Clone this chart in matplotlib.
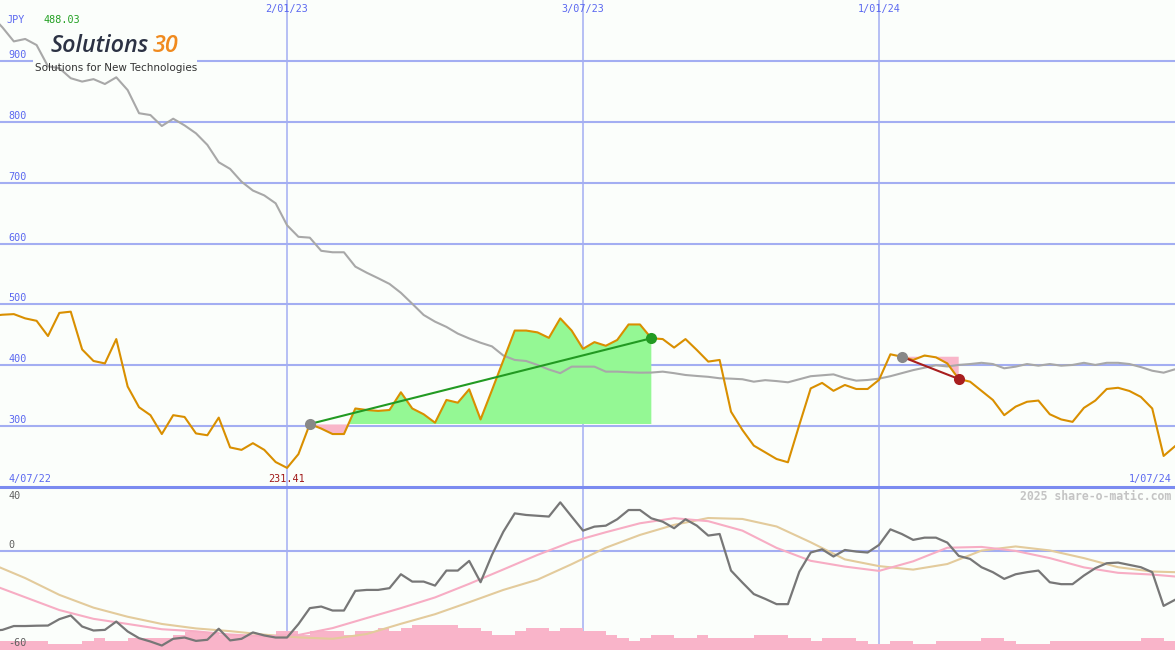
import numpy as np
import pandas as pd
import matplotlib
matplotlib.use("Agg")
import matplotlib.pyplot as plt
from matplotlib.patches import Rectangle
from matplotlib.lines import Line2D

# weekly closes, Solutions30 (JPY)
weeks = pd.date_range("2022-07-04", periods=105, freq="7D")

price = [481, 483, 484, 477, 473, 448, 486, 488.03, 426, 407,
         403, 443, 365, 331, 318, 287, 318, 315, 288, 285,
         314, 265, 261, 272, 261, 241, 231.41, 254, 303.5, 296,
         287, 287, 329, 326.5, 325, 326.5, 355.6, 329, 319.5, 305.6,
         343, 338.5, 360.5, 311, 359, 408, 457, 457, 454, 445,
         477, 457, 427, 438, 432, 441.5, 467, 467, 444.4, 443,
         429, 443, 425, 406, 408.7, 323.7, 293.7, 268, 257, 246,
         240.6, 302, 362, 371, 358, 367.6, 361, 361, 376, 418,
         414, 408.7, 416, 413, 403, 377.5, 373, 358, 343, 318,
         332, 340, 342, 319.5, 311, 307, 330, 342, 361, 363,
         357.7, 348, 329, 251, 267]

avg_line = [975, 955, 932, 936, 926, 891, 888, 871.5, 866, 870,
            862, 873, 852, 814, 811, 793, 805, 794, 781, 762,
            733.5, 722.5, 701.6, 687, 679, 666, 630, 611, 609.6, 588,
            585.6, 585.6, 562, 552, 543, 533.6, 519, 501, 482.6, 471.6,
            463, 452, 444, 437, 431, 416, 408.7, 407, 400.5, 393,
            387, 397.7, 397.7, 397.7, 389.5, 389.5, 388.5, 387.8, 388, 389.5,
            387, 384, 382.4, 381, 378.6, 378, 377, 373, 375.5, 374,
            372, 377, 382, 383.5, 385, 379, 374.7, 375.8, 378, 382,
            387, 392, 396, 400, 398, 400.5, 402, 404, 402, 395,
            397.7, 402, 399.3, 402, 399.3, 400.5, 404, 400.5, 404, 404,
            402, 397, 391, 387.8, 393.4]

momentum = [-50, -49.4, -47, -47, -46.8, -46.7, -42.7, -40.4, -47.3, -49.8,
            -49.4, -44.2, -50.4, -54.6, -56.7, -59.2, -55, -54.2, -56.3, -55.6,
            -48.7, -56, -55, -51, -52.9, -54.2, -54.2, -45.8, -35.8, -34.8,
            -37.3, -37.3, -25, -24.4, -24.4, -23.3, -14.6, -19.2, -19.2, -21.7,
            -12.3, -12.3, -6.25, -19.6, -2.5, 12, 23.5, 22.5, 22, 21.5,
            30.4, 21.5, 12.7, 15.2, 15.8, 19.8, 25.6, 25.6, 20.4, 18.3,
            14.2, 19.8, 15.8, 9.6, 10.6, -12.3, -19.8, -27, -30, -33.3,
            -33.3, -13, -1, 1, -3.5, 0.6, -0.4, -1, 3.75, 13.5,
            10.6, 6.9, 8.3, 8.3, 5.2, -3.1, -5, -10.2, -13.3, -17.5,
            -14.6, -13.3, -12.3, -19.6, -20.8, -20.8, -15.4, -10.8, -7.7, -7.3,
            -8.75, -10.2, -13.3, -34.4, -30.6]

# volume (thousand shares)
volume = [58, 58, 58, 58, 58, 39, 39, 39, 58, 75,
          58, 58, 75, 75, 75, 75, 96, 110, 110, 110,
          96, 96, 96, 96, 96, 120, 120, 96, 120, 120,
          120, 96, 120, 120, 138, 120, 138, 158, 158, 158,
          158, 138, 138, 120, 96, 96, 120, 138, 138, 120,
          138, 138, 120, 120, 96, 75, 58, 75, 96, 96,
          75, 75, 96, 75, 75, 75, 75, 96, 96, 96,
          75, 75, 58, 75, 75, 75, 58, 39, 39, 58,
          58, 39, 39, 58, 58, 58, 58, 75, 75, 58,
          39, 39, 39, 58, 58, 58, 58, 58, 58, 58,
          58, 75, 75, 58, 58]

# smoothed oscillators, read every third week
osc_idx = [0, 3, 6, 9, 12, 15, 18, 21, 24, 27, 30, 33, 36, 39, 42, 45, 48, 51,
           54, 57, 60, 63, 66, 69, 72, 75, 78, 81, 84, 87, 90, 93, 96, 99, 102, 104]
osc_fast = [-21, -29, -37, -42.5, -45.7, -49, -50.3, -52.3, -53.4, -52.6, -48.3, -42,
            -35.8, -29.1, -20.6, -11.6, -2.5, 5.7, 11.7, 17.3, 20.5, 18.6, 12.7, 1.9,
            -6.2, -9.8, -12.5, -6.5, 2, 2.5, 0, -4.5, -10.3, -13.7, -14.8, -16]
osc_slow = [-8, -17, -27.5, -35.5, -41.2, -45.7, -48.5, -50.2, -52.4, -54.1, -55, -52,
            -45.6, -39.6, -32.1, -24.4, -18, -8.3, 2, 10, 16.3, 20.6, 20, 15.3,
            5.4, -5.3, -9.5, -11.7, -8.2, 0.2, 2.8, 0.3, -4.5, -10.2, -12.9, -13.3]

# trades: (entry week, exit week)
trades = [(28, 58), (80, 85)]

price_levels = [300, 400, 500, 600, 700, 800, 900]
date_lines = ["2023-01-02", "2023-07-03", "2024-01-01"]
date_labels = ["2/01/23", "3/07/23", "1/01/24"]

bg = "#fbfefb"
grid = "#a3aef2"
mono = "DejaVu Sans Mono"

fig = plt.figure(figsize=(11.75, 6.5), dpi=100, facecolor=bg)
ax = fig.add_axes([0, 163 / 650, 1, 487 / 650])
ax2 = fig.add_axes([0, 0, 1, 163 / 650])

xmin = pd.Timestamp("2022-07-09 12:00")
xmax = pd.Timestamp("2024-07-01")
for a in (ax, ax2):
    a.set_facecolor(bg)
    a.set_xlim(xmin, xmax)
    a.set_xticks([])
    a.set_yticks([])
    for s in a.spines.values():
        s.set_visible(False)
    for d in date_lines:
        a.axvline(pd.Timestamp(d), color=grid, lw=1.1, zorder=1)

ax.set_ylim(200, 1000)
ax2.set_ylim(-62, 40)

# upper panel
for v in price_levels:
    ax.axhline(v, color=grid, lw=1.5, zorder=1)
    ax.text(0.007, v + 1.5, str(v), transform=ax.get_yaxis_transform(), va="bottom",
            ha="left", color="#5b68f0", fontsize=7.3, family=mono)

p = np.array(price)
for i0, i1 in trades:
    xs = weeks[i0:i1 + 1]
    ys = p[i0:i1 + 1]
    base = p[i0]
    ax.fill_between(xs, ys, base, where=ys >= base, interpolate=True,
                    color="#94f894", lw=0, zorder=2)
    ax.fill_between(xs, ys, base, where=ys <= base, interpolate=True,
                    color="#f9b6c9", lw=0, zorder=2)

ax.plot(weeks, avg_line, color="#a8a8a8", lw=1.5, zorder=3)
ax.plot(weeks, price, color="#d98f00", lw=1.5, zorder=4)

trade_cols = ["#229a22", "#a81e1e"]
for (i0, i1), c in zip(trades, trade_cols):
    ax.plot([weeks[i0], weeks[i1]], [price[i0], price[i1]], color=c, lw=1.5, zorder=5)
    ax.plot(weeks[i0], price[i0], "o", color="#888888", ms=8, mec="none", zorder=6)
    ax.plot(weeks[i1], price[i1], "o", color=c, ms=8, mec="none", zorder=6)

tr = ax.get_xaxis_transform()
for d, lab in zip(date_lines, date_labels):
    ax.text(pd.Timestamp(d), 1 - 9 / 487, lab, transform=tr, ha="center", va="center",
            color="#5b68f0", fontsize=7.3, family=mono)
ax.text(0.007, 8 / 487, "4/07/22", transform=ax.transAxes, ha="left", va="center",
        color="#5b68f0", fontsize=7.3, family=mono)
ax.text(0.997, 8 / 487, "1/07/24", transform=ax.transAxes, ha="right", va="center",
        color="#5b68f0", fontsize=7.3, family=mono)
imin = int(np.argmin(p))
ax.text(weeks[imin], 8 / 487, f"{p[imin]:.2f}", transform=tr, ha="center", va="center",
        color="#a01818", fontsize=7.3, family=mono)

# logo box hides the gridline behind it
ax.add_patch(Rectangle((33 / 1175, 1 - 66 / 650), 164 / 1175, 10 / 650,
                       transform=fig.transFigure, color=bg, lw=0, zorder=1.5))

fig.text(6 / 1175, 1 - 20 / 650, "JPY", ha="left", va="center", color="#5b68f0",
         fontsize=7.3, family=mono)
fig.text(43 / 1175, 1 - 20 / 650, f"{max(price):.2f}", ha="left", va="center",
         color="#22a022", fontsize=7.3, family=mono)
fig.text(51 / 1175, 1 - 46 / 650, "Solutions", ha="left", va="center", color="#2c3244",
         fontsize=16.8, style="italic", weight="semibold", family="Open Sans")
fig.text(153 / 1175, 1 - 46 / 650, "30", ha="left", va="center", color="#f08a1e",
         fontsize=16.8, style="italic", weight="semibold", family="Open Sans")
fig.text(35 / 1175, 1 - 68 / 650, "Solutions for New Technologies", ha="left", va="center",
         color="#333333", fontsize=7.5, family="DejaVu Sans")

# lower panel
ax2.axhline(0, color=grid, lw=1.5, zorder=1)
ax2.bar(weeks, np.array(volume) / 10, width=7, align="edge", bottom=-62,
        color="#f9b4c9", lw=0, zorder=2)
ax2.plot(weeks[osc_idx], osc_slow, color="#e3cb9c", lw=1.5, zorder=3)
ax2.plot(weeks[osc_idx], osc_fast, color="#f7adc4", lw=1.5, zorder=3)
ax2.plot(weeks, momentum, color="#777777", lw=1.6, zorder=4)

for v, off in [(40, -2.5), (0, 0.5), (-60, -1)]:
    ax2.text(0.007, v + off, str(v), transform=ax2.get_yaxis_transform(), ha="left",
             va="bottom" if v != 40 else "top", color="#606060", fontsize=7.3, family=mono)
ax2.text(0.997, 0.94, "2025 share-o-matic.com", transform=ax2.transAxes, ha="right",
         va="center", color="#c4c4c4", fontsize=8.3, weight="bold", family=mono)

fig.add_artist(Line2D([0, 1], [163 / 650, 163 / 650], transform=fig.transFigure,
                      color="#7b8bf0", lw=2.2, zorder=10))

fig.savefig("out.png", dpi=100, facecolor=bg)
